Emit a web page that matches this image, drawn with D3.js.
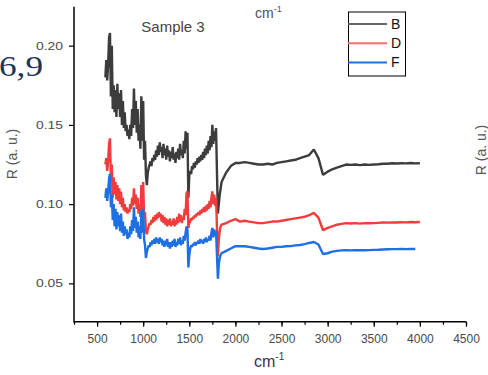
<!DOCTYPE html>
<html><head><meta charset="utf-8">
<script src="https://cdn.jsdelivr.net/npm/d3@7"></script>
<style>
html,body{margin:0;padding:0;background:#fff;}
svg{display:block;font-family:"Liberation Sans",Arial,sans-serif;}
</style></head>
<body><svg id="c" width="488" height="375"></svg>
<script>
// ---- data ----
const seriesNames = ["B", "D", "F"];
const seriesColors = ["#3c3c3c", "#f03c3c", "#1e6ee4"];
const legendColors = ["#666666", "#ff6a6a", "#1e6ee4"];
const xTicks = [500, 1000, 1500, 2000, 2500, 3000, 3500, 4000, 4500];
const yTicks = [0.05, 0.10, 0.15, 0.20];
const yTickLabels = ["0.05", "0.10", "0.15", "0.20"];

const wavenumber = [
590,600,610,620,630,640,650,660,670,680,
690,700,710,720,730,740,750,760,770,780,
790,800,810,820,830,840,850,860,870,880,
890,900,910,920,930,940,950,960,970,980,
990,1000,1010,1020,1030,1040,1050,1060,1070,1080,
1090,1100,1110,1120,1130,1140,1150,1160,1170,1180,
1190,1200,1210,1220,1230,1240,1250,1260,1270,1280,
1290,1300,1310,1320,1330,1340,1350,1360,1370,1380,
1390,1400,1410,1420,1430,1440,1450,1460,1470,1480,
1490,1500,1510,1520,1530,1540,1550,1560,1570,1580,
1590,1600,1610,1620,1630,1640,1650,1660,1670,1680,
1690,1700,1710,1720,1730,1740,1750,1760,1770,1780,
1790,1800,1810,1820,1830,1840,
1850,1900,1950,2000,2050,2100,2150,2200,2250,
2300,2350,2400,2450,2500,2550,2600,2650,2700,2750,
2800,2850,2900,2950,3000,3050,3100,3150,3200,3250,
3300,3350,3400,3450,3500,3550,3600,3650,3700,3750,
3800,3850,3900,3950,4000];

const valuesB = [
0.180,0.191,0.178,0.188,0.205,0.208,0.168,0.200,0.160,0.175,
0.158,0.172,0.155,0.176,0.160,0.170,0.155,0.172,0.150,0.165,
0.148,0.158,0.146,0.150,0.143,0.147,0.141,0.150,0.143,0.160,
0.148,0.173,0.150,0.165,0.145,0.160,0.140,0.150,0.135,0.168,
0.140,0.165,0.128,0.140,0.118,0.112,0.120,0.123,0.125,0.127,
0.124,0.129,0.127,0.131,0.128,0.134,0.130,0.137,0.131,0.139,
0.133,0.136,0.129,0.138,0.131,0.135,0.128,0.137,0.130,0.134,
0.127,0.133,0.129,0.136,0.128,0.132,0.126,0.133,0.129,0.135,
0.128,0.138,0.131,0.134,0.129,0.140,0.132,0.146,0.135,0.145,
0.104,0.118,0.121,0.119,0.124,0.122,0.126,0.123,0.127,0.125,
0.129,0.126,0.130,0.127,0.131,0.128,0.133,0.129,0.135,0.131,
0.137,0.132,0.140,0.134,0.143,0.136,0.150,0.138,0.146,0.140,
0.148,0.120,0.094,0.100,0.106,0.110,
0.114,0.120,0.124,0.126,0.126,0.1265,0.126,0.1255,0.125,
0.125,0.1255,0.125,0.126,0.1265,0.127,0.1275,0.128,0.129,0.130,
0.131,0.1345,0.129,0.1185,0.1205,0.122,0.123,0.124,0.125,0.1248,
0.125,0.1246,0.125,0.1248,0.125,0.1252,0.1255,0.1255,0.1258,0.1256,
0.1258,0.1257,0.126,0.1257,0.1258];

const valuesD = [
0.125,0.129,0.121,0.127,0.138,0.1415,0.115,0.125,0.104,0.117,
0.106,0.114,0.103,0.112,0.102,0.110,0.100,0.108,0.098,0.104,
0.096,0.100,0.095,0.098,0.094,0.097,0.095,0.100,0.097,0.104,
0.099,0.110,0.100,0.106,0.097,0.104,0.094,0.100,0.092,0.112,
0.096,0.114,0.092,0.095,0.083,0.081,0.084,0.086,0.088,0.087,
0.090,0.088,0.092,0.089,0.093,0.090,0.094,0.091,0.095,0.092,
0.094,0.089,0.093,0.088,0.092,0.087,0.091,0.086,0.090,0.087,
0.091,0.086,0.089,0.087,0.091,0.086,0.090,0.087,0.092,0.088,
0.094,0.089,0.093,0.088,0.092,0.090,0.097,0.093,0.107,0.108,
0.085,0.088,0.089,0.091,0.090,0.092,0.091,0.093,0.092,0.094,
0.093,0.095,0.093,0.096,0.094,0.097,0.095,0.098,0.095,0.099,
0.096,0.100,0.097,0.102,0.098,0.104,0.108,0.100,0.106,0.099,
0.104,0.085,0.067,0.078,0.083,0.086,
0.087,0.088,0.0895,0.0905,0.089,0.0895,0.089,0.0885,0.088,
0.088,0.0885,0.089,0.089,0.0895,0.090,0.0905,0.091,0.0915,0.092,
0.093,0.0945,0.0915,0.0835,0.085,0.086,0.087,0.0875,0.088,0.0878,
0.088,0.0877,0.088,0.0879,0.088,0.0882,0.0884,0.0883,0.0885,0.0884,
0.0886,0.0885,0.0887,0.0886,0.0887];

const valuesF = [
0.104,0.110,0.102,0.108,0.116,0.119,0.098,0.106,0.090,0.100,
0.086,0.097,0.084,0.095,0.086,0.093,0.083,0.094,0.082,0.089,
0.080,0.086,0.081,0.084,0.078,0.082,0.079,0.086,0.081,0.090,
0.083,0.098,0.085,0.092,0.082,0.089,0.079,0.086,0.078,0.096,
0.082,0.097,0.078,0.074,0.066,0.070,0.072,0.074,0.073,0.076,
0.074,0.077,0.075,0.078,0.075,0.079,0.076,0.078,0.075,0.079,
0.076,0.078,0.074,0.077,0.073,0.077,0.074,0.078,0.073,0.076,
0.072,0.076,0.073,0.077,0.074,0.078,0.073,0.076,0.074,0.078,
0.075,0.079,0.074,0.077,0.075,0.080,0.077,0.082,0.086,0.084,
0.060,0.068,0.072,0.074,0.073,0.075,0.074,0.076,0.074,0.076,
0.075,0.077,0.075,0.078,0.076,0.077,0.075,0.078,0.076,0.079,
0.076,0.078,0.077,0.080,0.077,0.082,0.085,0.079,0.084,0.080,
0.083,0.068,0.053,0.062,0.066,0.068,
0.069,0.0705,0.072,0.0735,0.0734,0.0734,0.073,0.0725,0.072,
0.0717,0.072,0.0725,0.073,0.073,0.0734,0.0735,0.074,0.0742,0.0748,
0.0755,0.0761,0.0745,0.0685,0.069,0.070,0.0705,0.0708,0.0709,0.0708,
0.0709,0.071,0.0709,0.071,0.0711,0.0712,0.0714,0.0715,0.0716,0.0716,
0.0717,0.0716,0.0717,0.0717];

const allValues = [valuesB, valuesD, valuesF];

// ---- drawing ----
const svg = d3.select("#c");
const x = d3.scaleLinear().domain([250, 4500]).range([74, 466]);
const y = d3.scaleLinear().domain([0.0258, 0.2246]).range([321.7, 6.7]);

// lines
const line = d3.line().x(d => x(d[0])).y(d => y(d[1]));
allValues.forEach((vals, i) => {
  svg.append("path")
    .datum(wavenumber.map((w, k) => [w, vals[k]]))
    .attr("d", line)
    .attr("fill", "none")
    .attr("stroke", seriesColors[i])
    .attr("stroke-width", 2.4)
    .attr("stroke-linejoin", "bevel");
});

// x axis
const xAxisG = svg.append("g").attr("transform", "translate(0,321.7)");
xAxisG.call(d3.axisBottom(x).tickValues(d3.range(250, 4501, 250)).tickSize(3).tickFormat(""))
  .call(g => g.select(".domain").remove())
  .call(g => g.selectAll(".tick line").attr("stroke", "#000").attr("stroke-width", 1.2));
xAxisG.append("g")
  .call(d3.axisBottom(x).tickValues(xTicks).tickSize(5).tickPadding(8).tickFormat(d3.format("d")))
  .call(g => g.select(".domain").remove())
  .call(g => g.selectAll(".tick line").attr("stroke", "#000").attr("stroke-width", 1.2))
  .call(g => g.selectAll(".tick text").attr("fill", "#4a4a4a").attr("font-size", 12)
                .attr("font-family", "'Liberation Sans',Arial,sans-serif"));
svg.append("line").attr("x1", x(250)).attr("x2", x(4500)).attr("y1", 321.7).attr("y2", 321.7)
  .attr("stroke", "#000").attr("stroke-width", 1.5);

// y axis
const yAxisG = svg.append("g").attr("transform", "translate(74,0)");
yAxisG.call(d3.axisLeft(y).tickValues(yTicks).tickSize(5).tickPadding(6)
      .tickFormat((d, i) => yTickLabels[i]))
  .call(g => g.select(".domain").remove())
  .call(g => g.selectAll(".tick line").attr("stroke", "#000").attr("stroke-width", 1.2))
  .call(g => g.selectAll(".tick text").attr("fill", "#4a4a4a").attr("font-size", 11)
                .attr("font-family", "'Liberation Sans',Arial,sans-serif")
                .attr("textLength", 27).attr("lengthAdjust", "spacingAndGlyphs"));
svg.append("line").attr("x1", 74).attr("x2", 74).attr("y1", 6.7).attr("y2", 322.4)
  .attr("stroke", "#000").attr("stroke-width", 1.5);

// texts
svg.append("text").attr("x", 173).attr("y", 32).attr("text-anchor", "middle")
  .attr("font-size", 15).attr("fill", "#444").text("Sample 3");

const cmTop = svg.append("text").attr("x", 255).attr("y", 18).attr("font-size", 14).attr("fill", "#554d5c");
cmTop.append("tspan").text("cm");
cmTop.append("tspan").attr("dy", -6).attr("font-size", 9).text("-1");

const cmBot = svg.append("text").attr("x", 254).attr("y", 367).attr("font-size", 16).attr("fill", "#3a3440");
cmBot.append("tspan").text("cm");
cmBot.append("tspan").attr("dy", -7).attr("font-size", 10).text("-1");

svg.append("text").attr("transform", "translate(17,154) rotate(-90)").attr("text-anchor", "middle")
  .attr("font-size", 14).attr("fill", "#555").text("R (a. u.)");
svg.append("text").attr("transform", "translate(486,150) rotate(-90)").attr("text-anchor", "middle")
  .attr("font-size", 14).attr("fill", "#555").text("R (a. u.)");

svg.append("text").attr("x", -1).attr("y", 76)
  .attr("font-family", "'Liberation Serif','Times New Roman',serif")
  .attr("font-size", 29).attr("fill", "#1d3358")
  .attr("textLength", 44).attr("lengthAdjust", "spacingAndGlyphs").text("6,9");

// legend
const lg = svg.append("g");
lg.append("rect").attr("x", 348.5).attr("y", 12).attr("width", 57).attr("height", 64)
  .attr("fill", "#fff").attr("stroke", "#000").attr("stroke-width", 1);
seriesNames.forEach((n, i) => {
  const yy = 24 + i * 19.2;
  lg.append("line").attr("x1", 348).attr("x2", 387).attr("y1", yy).attr("y2", yy)
    .attr("stroke", legendColors[i]).attr("stroke-width", 2);
  lg.append("text").attr("x", 391).attr("y", yy + 5).attr("font-size", 14).attr("fill", "#111").text(n);
});
</script></body></html>
